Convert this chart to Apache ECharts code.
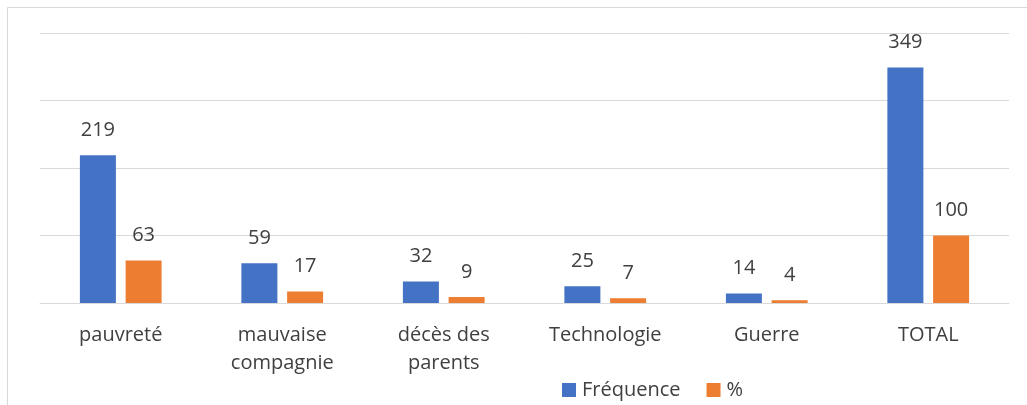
<!DOCTYPE html>
<html><head><meta charset="utf-8">
<script src="https://cdn.jsdelivr.net/npm/echarts@6/dist/echarts.min.js"></script>
<style>html,body{margin:0;padding:0;background:#fff}#c{width:1027px;height:405px}</style>
</head><body><div id="c"></div>
<script>
const categories = ['pauvreté', 'mauvaise\ncompagnie', 'décès des\nparents', 'Technologie', 'Guerre', 'TOTAL'];
const frequence = [219, 59, 32, 25, 14, 349];
const pourcent = [63, 17, 9, 7, 4, 100];
const seriesNames = ['Fréquence', '%'];

const font = '"Open Sans", "Noto Sans", sans-serif';
const chart = echarts.init(document.getElementById('c'), null, {renderer: 'canvas'});
const labelStyle = {show: true, position: 'top', distance: 15, color: '#404040', fontSize: 20, fontFamily: font};
chart.setOption({
  animation: false,
  backgroundColor: '#fff',
  graphic: [{type: 'rect', shape: {x: 7.5, y: 7.5, width: 1200, height: 600}, style: {fill: 'none', stroke: '#d9d9d9', lineWidth: 1}, silent: true}],
  grid: {left: 40, right: 18, top: 33, bottom: 102},
  legend: {
    left: 562, top: 380, padding: 0, itemWidth: 14, itemHeight: 14, itemGap: 26,
    icon: 'rect',
    textStyle: {color: '#404040', fontSize: 20, fontFamily: font, padding: [0, 0, 0, 1]},
    data: seriesNames
  },
  xAxis: {
    type: 'category', data: categories,
    axisLine: {lineStyle: {color: '#d9d9d9', width: 1}},
    axisTick: {show: false},
    axisLabel: {color: '#404040', fontSize: 20, fontFamily: font, lineHeight: 28, margin: 18, interval: 0}
  },
  yAxis: {
    type: 'value', min: 0, max: 400, interval: 100,
    axisLabel: {show: false}, axisLine: {show: false}, axisTick: {show: false},
    splitLine: {lineStyle: {color: '#d9d9d9', width: 1}}
  },
  series: [
    {name: seriesNames[0], type: 'bar', data: frequence, barWidth: 36, barGap: '27%', itemStyle: {color: '#4472C4'}, label: labelStyle},
    {name: seriesNames[1], type: 'bar', data: pourcent, barWidth: 36, itemStyle: {color: '#ED7D31'}, label: labelStyle}
  ]
});
</script></body></html>
